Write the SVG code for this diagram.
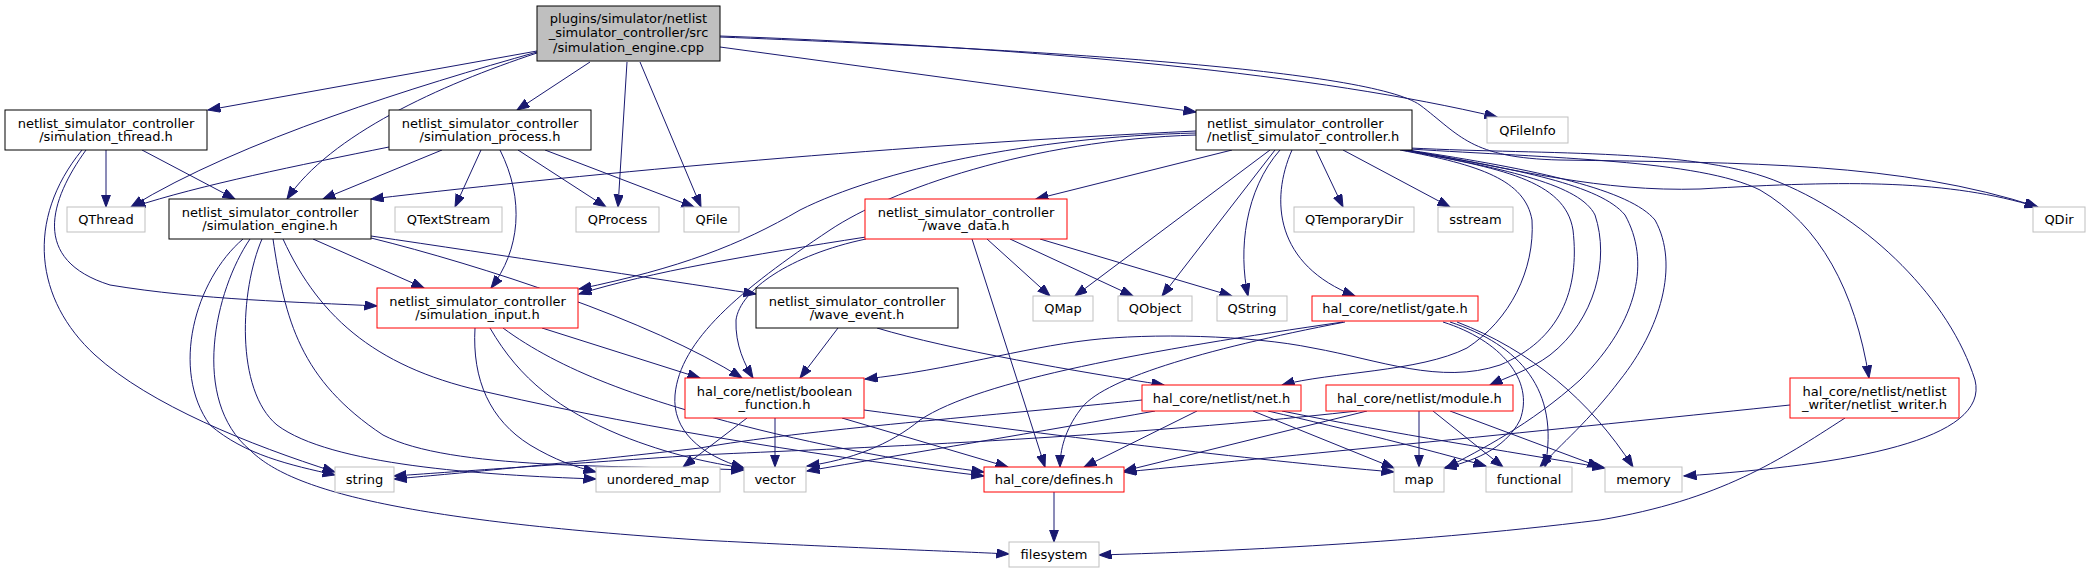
<svg xmlns="http://www.w3.org/2000/svg" width="2089" height="573" viewBox="0 0 2089 573">
<style>
text{font-family:"DejaVu Sans","Liberation Sans",sans-serif;font-size:13px;fill:#000;text-anchor:middle}
.doc{fill:#fff;stroke:#000;stroke-width:1}
.ext{fill:#fff;stroke:#bfbfbf;stroke-width:1}
.red{fill:#fff;stroke:#ff0000;stroke-width:1}
.root{fill:#bfbfbf;stroke:#000;stroke-width:1}
#edges path{fill:none;stroke:#191970;stroke-width:1;marker-end:url(#ah)}
</style>
<defs>
<marker id="ah" markerUnits="userSpaceOnUse" markerWidth="14" markerHeight="10" refX="12.5" refY="4.6" orient="auto">
<path d="M0,0 L12.5,4.6 L0,9.2 z" fill="#191970" stroke="#191970" stroke-width="1"/>
</marker>
</defs>
<rect width="2089" height="573" fill="#fff"/>
<g id="edges">
<path d="M537,51 L208,110"/>
<path d="M537,52 C420,85 240,140 131,207"/>
<path d="M537,53 C440,85 330,135 287,199"/>
<path d="M590,62 L517,110"/>
<path d="M627,62 L618,207"/>
<path d="M640,62 L701,207"/>
<path d="M720,47 L1196,112"/>
<path d="M720,36 C1050,48 1320,75 1497,117"/>
<path d="M720,37 C1050,50 1370,70 1420,105 C1460,135 1470,158 1560,160 C1750,163 1900,162 2038,207"/>
<path d="M106,150 L106,207"/>
<path d="M142,150 L235,199"/>
<path d="M86,150 C50,200 30,260 110,285 C200,300 300,302 377,306"/>
<path d="M82,150 C25,220 35,300 95,355 C150,405 250,445 335,472"/>
<path d="M389,147 C300,165 200,185 133,207"/>
<path d="M442,150 L323,199"/>
<path d="M481,150 L455,207"/>
<path d="M500,150 C525,200 520,250 491,288"/>
<path d="M518,150 L606,207"/>
<path d="M545,150 L694,207"/>
<path d="M243,239 C195,280 170,370 210,425 C245,455 290,465 335,475"/>
<path d="M250,239 C215,290 190,400 250,450 C290,490 400,520 700,540 C850,548 950,551 1009,554"/>
<path d="M262,239 C240,290 235,390 277,425 C330,465 480,475 596,479"/>
<path d="M273,239 C285,320 300,380 383,435 C450,470 620,465 744,470"/>
<path d="M283,239 C320,320 380,370 491,393 C650,430 850,460 984,476"/>
<path d="M313,239 L424,288"/>
<path d="M371,236 C500,255 650,278 756,294"/>
<path d="M371,238 C480,265 650,320 742,378"/>
<path d="M475,328 C472,380 490,420 530,445 C555,460 575,467 596,472"/>
<path d="M490,328 C520,380 560,410 620,435 C670,455 710,463 744,468"/>
<path d="M503,328 C560,370 640,400 760,430 C850,452 930,465 984,472"/>
<path d="M542,328 L700,378"/>
<path d="M838,328 L800,378"/>
<path d="M877,328 C950,350 1080,372 1164,385"/>
<path d="M866,237 C750,255 650,272 579,294"/>
<path d="M866,239 C790,255 740,290 736,320 C735,345 745,365 753,378"/>
<path d="M987,239 L1050,296"/>
<path d="M1010,239 L1133,296"/>
<path d="M1040,239 L1232,296"/>
<path d="M972,239 L1045,467"/>
<path d="M1196,131 C900,145 600,172 371,199"/>
<path d="M1196,133 C1030,137 880,170 800,210 C740,245 680,268 579,289"/>
<path d="M1196,135 C1030,140 890,190 830,230 C740,290 680,340 675,395 C672,430 700,455 744,468"/>
<path d="M1232,150 L1036,199"/>
<path d="M1270,150 L1075,296"/>
<path d="M1275,150 L1162,296"/>
<path d="M1280,150 C1245,190 1238,250 1248,296"/>
<path d="M1292,150 C1270,200 1275,265 1355,296"/>
<path d="M1316,150 L1343,207"/>
<path d="M1343,150 L1450,207"/>
<path d="M1400,150 C1480,165 1525,180 1532,220 C1535,270 1510,320 1467,348 C1420,372 1330,372 1282,385"/>
<path d="M1402,150 C1500,168 1565,180 1573,230 C1580,290 1560,340 1500,365 C1440,385 1380,360 1313,348 C1250,335 1150,333 1090,340 C1020,348 950,370 865,379"/>
<path d="M1405,150 C1510,170 1580,185 1595,215 C1610,260 1595,320 1550,355 C1530,370 1505,378 1490,385"/>
<path d="M1406,150 C1520,170 1600,185 1625,215 C1650,260 1640,320 1580,380 C1530,425 1480,450 1446,468"/>
<path d="M1408,150 C1540,170 1630,190 1655,220 C1680,265 1660,330 1620,380 C1590,420 1560,445 1540,467"/>
<path d="M1410,149 C1550,158 1700,160 1760,190 C1820,225 1855,290 1869,378"/>
<path d="M1410,148 C1550,155 1700,148 1781,183 C1870,220 1950,300 1975,380 C1990,440 1850,465 1684,476"/>
<path d="M1412,151 C1520,170 1600,192 1700,189 C1850,180 1950,180 2037,207"/>
<path d="M1343,322 C1150,350 980,380 920,420 C890,445 850,460 807,466"/>
<path d="M1345,322 C1200,350 1100,380 1080,410 C1065,430 1060,450 1060,467"/>
<path d="M1443,322 C1500,340 1535,380 1520,420 C1505,450 1470,462 1444,468"/>
<path d="M1450,322 C1520,345 1560,390 1545,467"/>
<path d="M1457,322 C1530,350 1590,400 1633,467"/>
<path d="M747,418 L683,467"/>
<path d="M775,418 L775,467"/>
<path d="M842,418 L1008,467"/>
<path d="M864,410 C1050,435 1250,460 1394,472"/>
<path d="M1142,400 C1000,415 800,430 700,448 C550,465 450,474 394,479"/>
<path d="M1155,411 C1050,430 900,455 807,471"/>
<path d="M1197,411 L1084,467"/>
<path d="M1253,411 L1394,468"/>
<path d="M1268,411 C1350,430 1430,450 1486,466"/>
<path d="M1282,411 C1400,435 1500,450 1605,468"/>
<path d="M1357,411 C1100,440 800,450 700,455 C550,465 450,472 394,476"/>
<path d="M1367,411 L1124,471"/>
<path d="M1419,411 L1419,467"/>
<path d="M1433,411 L1503,467"/>
<path d="M1450,411 L1600,467"/>
<path d="M1790,405 C1600,425 1300,455 1124,472"/>
<path d="M1845,418 C1780,460 1720,500 1600,520 C1400,545 1200,552 1099,555"/>
<path d="M1054,492 L1054,542"/>
</g>
<g id="root"><rect class="root" x="537" y="6" width="183" height="55"/><text x="628.5" y="22.5">plugins/simulator/netlist</text><text x="628.5" y="37">_simulator_controller/src</text><text x="628.5" y="51.5">/simulation_engine.cpp</text></g>
<g id="sim_thread"><rect class="doc" x="5" y="110" width="202" height="40"/><text x="106" y="127.5">netlist_simulator_controller</text><text x="106" y="141">/simulation_thread.h</text></g>
<g id="sim_process"><rect class="doc" x="389" y="110" width="202" height="40"/><text x="490" y="127.5">netlist_simulator_controller</text><text x="490" y="141">/simulation_process.h</text></g>
<g id="nsc"><rect class="doc" x="1196" y="110" width="216" height="40"/><text x="1207" y="127.5" style="text-anchor:start">netlist_simulator_controller</text><text x="1207" y="141" style="text-anchor:start">/netlist_simulator_controller.h</text></g>
<g id="QFileInfo"><rect class="ext" x="1487" y="117" width="81" height="26"/><text x="1527.5" y="134.5">QFileInfo</text></g>
<g id="QThread"><rect class="ext" x="67" y="207" width="78" height="25"/><text x="106" y="224">QThread</text></g>
<g id="engine"><rect class="doc" x="169" y="199" width="202" height="40"/><text x="270" y="216.5">netlist_simulator_controller</text><text x="270" y="230">/simulation_engine.h</text></g>
<g id="QTextStream"><rect class="ext" x="395" y="207" width="107" height="25"/><text x="448.5" y="224">QTextStream</text></g>
<g id="QProcess"><rect class="ext" x="576" y="207" width="83" height="25"/><text x="617.5" y="224">QProcess</text></g>
<g id="QFile"><rect class="ext" x="684" y="207" width="55" height="25"/><text x="711.5" y="224">QFile</text></g>
<g id="wave_data"><rect class="red" x="865" y="199" width="202" height="40"/><text x="966" y="216.5">netlist_simulator_controller</text><text x="966" y="230">/wave_data.h</text></g>
<g id="QTemporaryDir"><rect class="ext" x="1294" y="207" width="120" height="25"/><text x="1354" y="224">QTemporaryDir</text></g>
<g id="sstream"><rect class="ext" x="1438" y="207" width="75" height="25"/><text x="1475.5" y="224">sstream</text></g>
<g id="QDir"><rect class="ext" x="2033" y="207" width="52" height="25"/><text x="2059" y="224">QDir</text></g>
<g id="sim_input"><rect class="red" x="377" y="288" width="201" height="40"/><text x="477.5" y="305.5">netlist_simulator_controller</text><text x="477.5" y="319">/simulation_input.h</text></g>
<g id="wave_event"><rect class="doc" x="756" y="288" width="202" height="40"/><text x="857" y="305.5">netlist_simulator_controller</text><text x="857" y="319">/wave_event.h</text></g>
<g id="QMap"><rect class="ext" x="1033" y="296" width="60" height="25"/><text x="1063" y="313">QMap</text></g>
<g id="QObject"><rect class="ext" x="1118" y="296" width="74" height="25"/><text x="1155" y="313">QObject</text></g>
<g id="QString"><rect class="ext" x="1217" y="296" width="70" height="25"/><text x="1252" y="313">QString</text></g>
<g id="gate"><rect class="red" x="1312" y="296" width="166" height="25"/><text x="1395" y="313">hal_core/netlist/gate.h</text></g>
<g id="boolean_function"><rect class="red" x="685" y="378" width="179" height="40"/><text x="774.5" y="395.5">hal_core/netlist/boolean</text><text x="774.5" y="409">_function.h</text></g>
<g id="net"><rect class="red" x="1142" y="385" width="159" height="26"/><text x="1221.5" y="402.5">hal_core/netlist/net.h</text></g>
<g id="module"><rect class="red" x="1326" y="385" width="187" height="26"/><text x="1419.5" y="402.5">hal_core/netlist/module.h</text></g>
<g id="netlist_writer"><rect class="red" x="1790" y="378" width="169" height="40"/><text x="1874.5" y="395.5">hal_core/netlist/netlist</text><text x="1874.5" y="409">_writer/netlist_writer.h</text></g>
<g id="string"><rect class="ext" x="335" y="467" width="59" height="25"/><text x="364.5" y="484">string</text></g>
<g id="unordered_map"><rect class="ext" x="596" y="467" width="124" height="25"/><text x="658" y="484">unordered_map</text></g>
<g id="vector"><rect class="ext" x="744" y="467" width="62" height="25"/><text x="775" y="484">vector</text></g>
<g id="defines"><rect class="red" x="984" y="467" width="140" height="25"/><text x="1054" y="484">hal_core/defines.h</text></g>
<g id="map"><rect class="ext" x="1394" y="467" width="50" height="25"/><text x="1419" y="484">map</text></g>
<g id="functional"><rect class="ext" x="1486" y="467" width="86" height="25"/><text x="1529" y="484">functional</text></g>
<g id="memory"><rect class="ext" x="1605" y="467" width="77" height="25"/><text x="1643.5" y="484">memory</text></g>
<g id="filesystem"><rect class="ext" x="1009" y="542" width="90" height="25"/><text x="1054" y="559">filesystem</text></g>
</svg>
